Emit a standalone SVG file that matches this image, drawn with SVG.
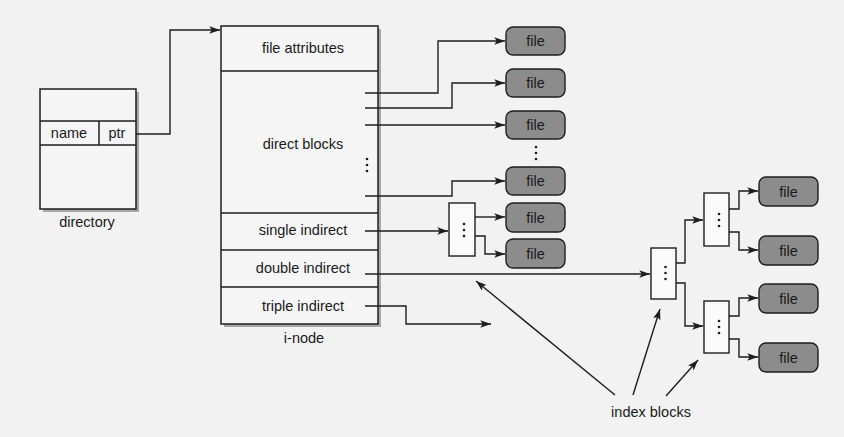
<svg xmlns="http://www.w3.org/2000/svg" width="844" height="437" viewBox="0 0 844 437">
<style>
  text { font-family: "Liberation Sans", Arial, sans-serif; font-size: 14.5px; fill: #1a1a1a; text-anchor: middle; }
  .box { fill: #f5f5f5; stroke: #1e1e1e; stroke-width: 1.5; }
  .shadow { fill: #a8a8a8; }
  .sep { stroke: #1e1e1e; stroke-width: 1.5; fill: none; }
  .idx { fill: #fafafa; stroke: #1e1e1e; stroke-width: 1.4; }
  .file { fill: #8c8c8c; stroke: #1e1e1e; stroke-width: 1.4; }
  .dot { fill: #1e1e1e; }
  .conn { fill: none; stroke: #1e1e1e; stroke-width: 1.4; marker-end: url(#ah); }
</style>
<defs>
  <marker id="ah" viewBox="0 0 10 7" refX="10" refY="3.5" markerWidth="12" markerHeight="7.5" orient="auto" markerUnits="userSpaceOnUse">
    <path d="M0,0 L10,3.5 L0,7 L2.2,3.5 Z" fill="#1e1e1e"/>
  </marker>
</defs>
<rect x="0" y="0" width="844" height="437" fill="#f2f2f2"/>

<g id="directory">
  <rect class="shadow" x="43" y="92" width="96" height="120"/>
  <rect class="box" x="40" y="89" width="96" height="120"/>
  <line class="sep" x1="40" y1="121" x2="136" y2="121"/>
  <line class="sep" x1="40" y1="145" x2="136" y2="145"/>
  <line class="sep" x1="99" y1="121" x2="99" y2="145"/>
  <text x="69" y="138">name</text>
  <text x="117" y="138">ptr</text>
  <text x="87" y="227">directory</text>
</g>

<g id="inode">
  <rect class="shadow" x="224" y="29" width="157" height="298"/>
  <rect class="box" x="221" y="26" width="157" height="298"/>
  <line class="sep" x1="221" y1="71" x2="378" y2="71"/>
  <line class="sep" x1="221" y1="213" x2="378" y2="213"/>
  <line class="sep" x1="221" y1="250" x2="378" y2="250"/>
  <line class="sep" x1="221" y1="287" x2="378" y2="287"/>
  <text x="303" y="53">file attributes</text>
  <text x="303" y="149">direct blocks</text>
  <circle class="dot" cx="367" cy="159" r="1.3"/>
  <circle class="dot" cx="367" cy="165" r="1.3"/>
  <circle class="dot" cx="367" cy="171" r="1.3"/>
  <text x="303" y="235">single indirect</text>
  <text x="303" y="273">double indirect</text>
  <text x="303" y="311">triple indirect</text>
  <text x="304" y="343">i-node</text>
</g>

<g id="files-direct">
  <rect class="file" x="506" y="27" width="59" height="28" rx="7"/>
  <text x="535.5" y="46">file</text>
  <rect class="file" x="506" y="69" width="59" height="28" rx="7"/>
  <text x="535.5" y="88">file</text>
  <rect class="file" x="506" y="111" width="59" height="28" rx="7"/>
  <text x="535.5" y="130">file</text>
  <circle class="dot" cx="536" cy="147" r="1.3"/>
  <circle class="dot" cx="536" cy="153" r="1.3"/>
  <circle class="dot" cx="536" cy="159" r="1.3"/>
  <rect class="file" x="506" y="167" width="59" height="28" rx="7"/>
  <text x="535.5" y="186">file</text>
</g>

<g id="single-index">
  <rect class="idx" x="449" y="203" width="26" height="53"/>
  <circle class="dot" cx="464" cy="224" r="1.3"/>
  <circle class="dot" cx="464" cy="230" r="1.3"/>
  <circle class="dot" cx="464" cy="236" r="1.3"/>
  <rect class="file" x="506" y="203" width="59" height="29" rx="7"/>
  <text x="535.5" y="222.5">file</text>
  <rect class="file" x="506" y="239" width="59" height="29" rx="7"/>
  <text x="535.5" y="258.5">file</text>
</g>

<g id="double-index">
  <rect class="idx" x="651" y="248" width="25" height="51"/>
  <circle class="dot" cx="665.5" cy="267" r="1.3"/>
  <circle class="dot" cx="665.5" cy="273" r="1.3"/>
  <circle class="dot" cx="665.5" cy="279" r="1.3"/>
  <rect class="idx" x="704" y="193" width="25" height="53"/>
  <circle class="dot" cx="719" cy="214" r="1.3"/>
  <circle class="dot" cx="719" cy="220" r="1.3"/>
  <circle class="dot" cx="719" cy="226" r="1.3"/>
  <rect class="idx" x="704" y="301" width="25" height="52"/>
  <circle class="dot" cx="719" cy="321" r="1.3"/>
  <circle class="dot" cx="719" cy="327" r="1.3"/>
  <circle class="dot" cx="719" cy="333" r="1.3"/>
  <rect class="file" x="759" y="177" width="59" height="29" rx="7"/>
  <text x="788.5" y="196.5">file</text>
  <rect class="file" x="759" y="236" width="59" height="29" rx="7"/>
  <text x="788.5" y="255.5">file</text>
  <rect class="file" x="759" y="284" width="59" height="29" rx="7"/>
  <text x="788.5" y="303.5">file</text>
  <rect class="file" x="759" y="343" width="59" height="29" rx="7"/>
  <text x="788.5" y="362.5">file</text>
</g>

<g id="index-blocks-label">
  <text x="651" y="417">index blocks</text>
</g>

<g id="connectors">
  <polyline class="conn" points="136,134 170,134 170,30 220,30"/>
  <polyline class="conn" points="365,93 438,93 438,41 505,41"/>
  <polyline class="conn" points="365,108 452,108 452,83 505,83"/>
  <polyline class="conn" points="365,125 505,125"/>
  <polyline class="conn" points="365,196 452,196 452,181 505,181"/>
  <polyline class="conn" points="365,231 448,231"/>
  <polyline class="conn" points="475,217 505,217"/>
  <polyline class="conn" points="475,236 485,236 485,254 505,254"/>
  <polyline class="conn" points="365,274 650,274"/>
  <polyline class="conn" points="676,263 685,263 685,220 703,220"/>
  <polyline class="conn" points="676,283 685,283 685,326 703,326"/>
  <polyline class="conn" points="729,209 739,209 739,191 758,191"/>
  <polyline class="conn" points="729,232 739,232 739,250 758,250"/>
  <polyline class="conn" points="729,316 739,316 739,298 758,298"/>
  <polyline class="conn" points="729,339 739,339 739,357 758,357"/>
  <polyline class="conn" points="365,306 406,306 406,324 491,324"/>
  <line class="conn" x1="615" y1="395" x2="476" y2="281"/>
  <line class="conn" x1="633" y1="395" x2="660" y2="309"/>
  <line class="conn" x1="666" y1="396" x2="698" y2="360"/>
</g>
</svg>
